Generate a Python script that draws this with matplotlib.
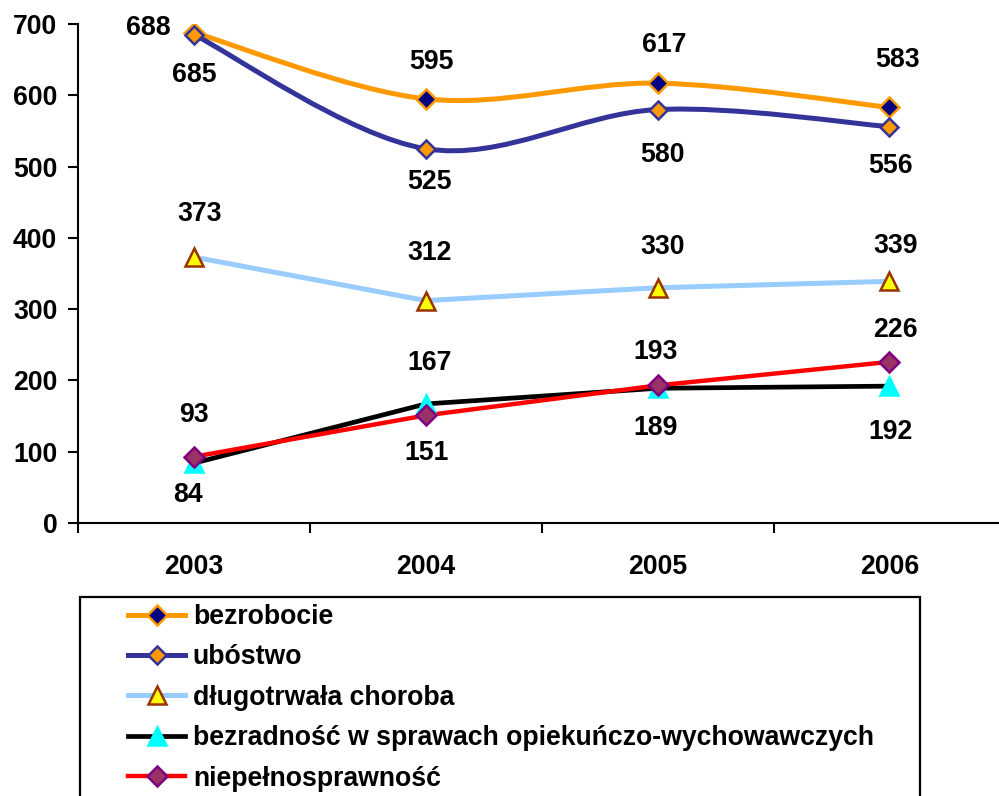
import matplotlib
matplotlib.use("Agg")
import matplotlib.pyplot as plt
import numpy as np
from matplotlib.path import Path
from matplotlib.patches import PathPatch, Rectangle
from matplotlib.lines import Line2D

plt.rcParams['font.family'] = ['Liberation Sans', 'DejaVu Sans']
plt.rcParams['font.weight'] = 'bold'

years = ['2003', '2004', '2005', '2006']
series_names = ['bezrobocie', 'ubóstwo', 'długotrwała choroba',
                'bezradność w sprawach opiekuńczo-wychowawczych', 'niepełnosprawność']
bezrobocie = [688, 595, 617, 583]
ubostwo = [685, 525, 580, 556]
choroba = [373, 312, 330, 339]
bezradnosc = [84, 167, 189, 192]
niepelnosprawnosc = [93, 151, 193, 226]
y_ticks = [0, 100, 200, 300, 400, 500, 600, 700]

values = [bezrobocie, ubostwo, choroba, bezradnosc, niepelnosprawnosc]

# styles
styles = [
    dict(color='#FF9900', marker='D', mfc='#000080', mec='#FF9900', ms=10, lw=3.6, smooth=True),
    dict(color='#333399', marker='D', mfc='#FF9900', mec='#333399', ms=9.5, lw=3.6, smooth=True),
    dict(color='#99CCFF', marker='^', mfc='#FFFF00', mec='#993300', ms=13, lw=3.6, smooth=False),
    dict(color='#000000', marker='^', mfc='#00FFFF', mec='#00FFFF', ms=12.5, lw=3.4, smooth=False),
    dict(color='#FF0000', marker='D', mfc='#993366', mec='#800080', ms=10, lw=3.2, smooth=False),
]

# label offsets in pixels (dx, dy up-positive)
label_offsets = [
    [(-46, 5), (6, 37), (7, 38), (8, 47)],
    [(0, -40), (4, -33), (5, -45), (1, -39)],
    [(6, 43), (4, 48), (5, 41), (6, 35)],
    [(-6, -32), (4, 41), (-2, -40), (1, -46)],
    [(0, 42), (1, -38), (-2, 33), (6, 32)],
]

FS = 19.2

fig = plt.figure(figsize=(9.99, 7.96), dpi=100)
W, H = 999, 796
left_px, right_px = 78.1, 1005.4
top_px, bottom_px = 24, 523
ax = fig.add_axes([left_px / W, 1 - bottom_px / H, (right_px - left_px) / W, (bottom_px - top_px) / H])

x = np.arange(len(years))


def smooth_path(xs, ys):
    pts = np.column_stack([xs, ys]).astype(float)
    n = len(pts)
    verts = [pts[0]]
    codes = [Path.MOVETO]
    for i in range(n - 1):
        p0 = pts[i - 1] if i > 0 else pts[i]
        p1 = pts[i]
        p2 = pts[i + 1]
        p3 = pts[i + 2] if i + 2 < n else pts[i + 1]
        c1 = p1 + (p2 - p0) / 6.0
        c2 = p2 - (p3 - p1) / 6.0
        verts += [c1, c2, p2]
        codes += [Path.CURVE4] * 3
    return Path(verts, codes)


for vals, st in zip(values, styles):
    if st['smooth']:
        patch = PathPatch(smooth_path(x, vals), facecolor='none', edgecolor=st['color'],
                          lw=st['lw'], capstyle='round', joinstyle='round', zorder=2)
        ax.add_patch(patch)
    else:
        ax.plot(x, vals, color=st['color'], lw=st['lw'], zorder=2, solid_joinstyle='round')
    ax.plot(x, vals, linestyle='none', marker=st['marker'], mfc=st['mfc'], mec=st['mec'],
            ms=st['ms'], mew=1.8, zorder=3)

for vals, offs in zip(values, label_offsets):
    for xi, v, (dx, dy) in zip(x, vals, offs):
        ax.annotate(str(v), (xi, v), xytext=(dx, dy), textcoords='offset pixels',
                    ha='center', va='center', fontsize=FS, fontweight='bold', zorder=5)

ax.set_xlim(-0.5, 3.5)
ax.set_ylim(0, 700)
ax.set_yticks(y_ticks)
ax.set_yticklabels([str(t) for t in y_ticks])
ax.set_xticks(x)
ax.set_xticklabels(years)
ax.set_xticks(np.arange(-0.5, 3.6, 1.0), minor=True)
ax.tick_params(axis='x', which='major', length=0, pad=22, labelsize=FS)
ax.tick_params(axis='x', which='minor', length=7, width=1.5, direction='out')
ax.tick_params(axis='y', which='major', length=7, width=1.5, direction='out', pad=8, labelsize=FS)
for lab in ax.get_xticklabels() + ax.get_yticklabels():
    lab.set_fontweight('bold')
for s in ['top', 'right']:
    ax.spines[s].set_visible(False)
for s in ['left', 'bottom']:
    ax.spines[s].set_linewidth(1.5)
ax.spines['left'].set_bounds(0, 700)

# legend
handles = []
for st in styles:
    handles.append(Line2D([], [], color=st['color'], lw=st['lw'], marker=st['marker'],
                          mfc=st['mfc'], mec=st['mec'], ms=st['ms'], mew=1.8))
leg = fig.legend(handles, series_names, loc='upper left',
                 bbox_to_anchor=(128 / W, 1 - 604 / H), bbox_transform=fig.transFigure,
                 frameon=False, borderpad=0, borderaxespad=0, handlelength=2.15,
                 handletextpad=0.28, labelspacing=0.54, prop=dict(size=FS, weight='bold'))

rect = Rectangle((80 / W, -0.1), 840 / W, 0.1 + (1 - 597 / H), transform=fig.transFigure,
                 fill=False, edgecolor='black', lw=1.6, zorder=10)
fig.patches.append(rect)

fig.savefig('out.png', dpi=100)
